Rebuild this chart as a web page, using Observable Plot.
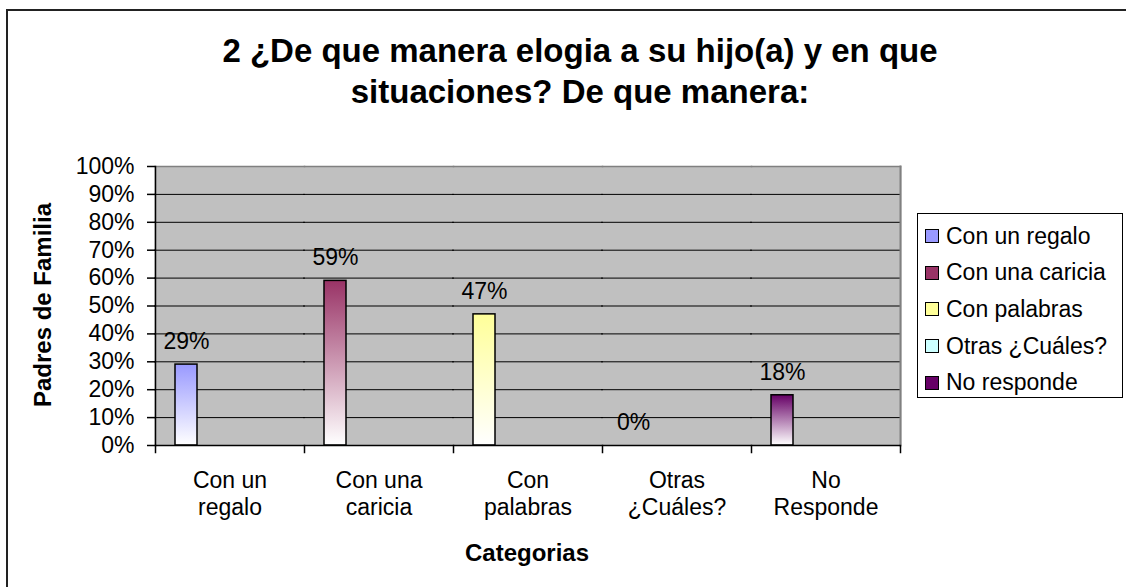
<!DOCTYPE html>
<html><head><meta charset="utf-8">
<script src="https://cdn.jsdelivr.net/npm/d3@7"></script>
<script src="https://cdn.jsdelivr.net/npm/@observablehq/plot@0.6"></script>
<style>
body{margin:0;background:#fff;}
#wrap{position:relative;width:1126px;height:587px;font-family:"Liberation Sans",Arial,sans-serif;overflow:hidden;background:#fff;color:#000;}
#chart svg{position:absolute;left:0;top:0;}
#title{position:absolute;left:0;width:1160px;top:30px;text-align:center;font-weight:bold;font-size:33px;line-height:41px;}
#ylabel{position:absolute;left:43px;top:305px;transform:translate(-50%,-50%) rotate(-90deg);font-weight:bold;font-size:24px;white-space:nowrap;}
#xlabel{position:absolute;left:527px;top:553px;transform:translate(-50%,-50%);font-weight:bold;font-size:24px;white-space:nowrap;}
#legend{position:absolute;left:917px;top:213px;width:206px;height:185px;box-sizing:border-box;border:1px solid #000;background:#fff;padding-top:4px;}
#legend .item{height:36.6px;display:flex;align-items:center;font-size:23px;white-space:nowrap;}
#legend .sw{width:12px;height:12px;border:1.5px solid #000;margin-left:7px;margin-right:7px;flex:none;}
#border{position:absolute;left:6px;top:9px;right:0;bottom:0;border:2px solid #222;border-right:none;border-bottom:none;box-sizing:border-box;pointer-events:none;}
</style></head><body>
<div id="wrap">
  <div id="chart"></div>
  <div id="title">2 ¿De que manera elogia a su hijo(a) y en que<br>situaciones? De que manera:</div>
  <div id="ylabel">Padres de Familia</div>
  <div id="xlabel">Categorias</div>
  <div id="legend"></div>
  <div id="border"></div>
</div>
<script>
const categories = ["Con un regalo", "Con una caricia", "Con palabras", "Otras ¿Cuáles?", "No Responde"];
const categoryLabels = ["Con un\nregalo", "Con una\ncaricia", "Con\npalabras", "Otras\n¿Cuáles?", "No\nResponde"];
const seriesNames = ["Con un regalo", "Con una caricia", "Con palabras", "Otras ¿Cuáles?", "No responde"];
const values = [29, 59, 47, 0, 18];
const colors = ["#9999ff", "#993366", "#ffff99", "#ccffff", "#660066"];
const yTicks = [0, 10, 20, 30, 40, 50, 60, 70, 80, 90, 100];

const data = categories.map((c, i) => ({
  category: c,
  series: seriesNames[i],
  slot: seriesNames[0],
  value: values[i],
  grad: `url(#grad${i})`
}));

const svg = Plot.plot({
  width: 1126, height: 587,
  marginLeft: 155, marginRight: 226, marginTop: 166, marginBottom: 142,
  style: {fontFamily: "Liberation Sans, Arial, sans-serif", fontSize: "23px", color: "#000", background: "transparent"},
  fx: {domain: categories, padding: 0, label: null},
  x: {domain: seriesNames, paddingInner: 0, paddingOuter: 0.74, axis: null},
  y: {domain: [0, 100]},
  color: {type: "identity"},
  marks: [
    Plot.frame({fill: "#c0c0c0", stroke: "none", insetLeft: -1, insetRight: -1}),
    Plot.ruleY(yTicks.filter(t => t > 0), {stroke: "#000", strokeWidth: 1, insetLeft: -1, insetRight: -1}),
    Plot.frame({anchor: "top", stroke: "#808080", strokeWidth: 1.5}),
    Plot.frame({anchor: "right", facetAnchor: "right", stroke: "#808080", strokeWidth: 2}),
    Plot.barY(data, {fx: "category", x: "slot", y: "value", fill: "grad", stroke: "#000", strokeWidth: 1.5}),
    Plot.text(data, {fx: "category", x: "slot", y: "value", text: d => d.value + "%", dy: -23, fill: "#000"}),
    Plot.ruleY([0], {stroke: "#000", strokeWidth: 1.5}),
    Plot.frame({anchor: "left", facetAnchor: "left", stroke: "#000", strokeWidth: 1.5}),
    Plot.frame({anchor: "left", insetTop: 279, insetBottom: -7, stroke: "#000", strokeWidth: 1.5}),
    Plot.frame({anchor: "right", facetAnchor: "right", insetTop: 279, insetBottom: -7, stroke: "#000", strokeWidth: 1.5}),
    Plot.axisY(yTicks, {tickFormat: d => d + "%", tickSize: 8, tickPadding: 13, label: null, strokeWidth: 1.5}),
    Plot.axisFx({anchor: "bottom", tickSize: 0, tickPadding: 24, lineHeight: 1.15, label: null,
      tickFormat: d => categoryLabels[categories.indexOf(d)]})
  ]
});

const ns = "http://www.w3.org/2000/svg";
const defs = document.createElementNS(ns, "defs");
colors.forEach((c, i) => {
  const g = document.createElementNS(ns, "linearGradient");
  g.setAttribute("id", "grad" + i);
  g.setAttribute("x1", "0"); g.setAttribute("y1", "0");
  g.setAttribute("x2", "0"); g.setAttribute("y2", "1");
  [[0, c], [1, "#ffffff"]].forEach(([o, col]) => {
    const s = document.createElementNS(ns, "stop");
    s.setAttribute("offset", o);
    s.setAttribute("stop-color", col);
    g.appendChild(s);
  });
  defs.appendChild(g);
});
svg.insertBefore(defs, svg.firstChild);
document.getElementById("chart").appendChild(svg);

const legend = document.getElementById("legend");
seriesNames.forEach((name, i) => {
  const item = document.createElement("div");
  item.className = "item";
  const sw = document.createElement("span");
  sw.className = "sw";
  sw.style.background = colors[i];
  const t = document.createElement("span");
  t.textContent = name;
  item.appendChild(sw);
  item.appendChild(t);
  legend.appendChild(item);
});
</script>
</body></html>
